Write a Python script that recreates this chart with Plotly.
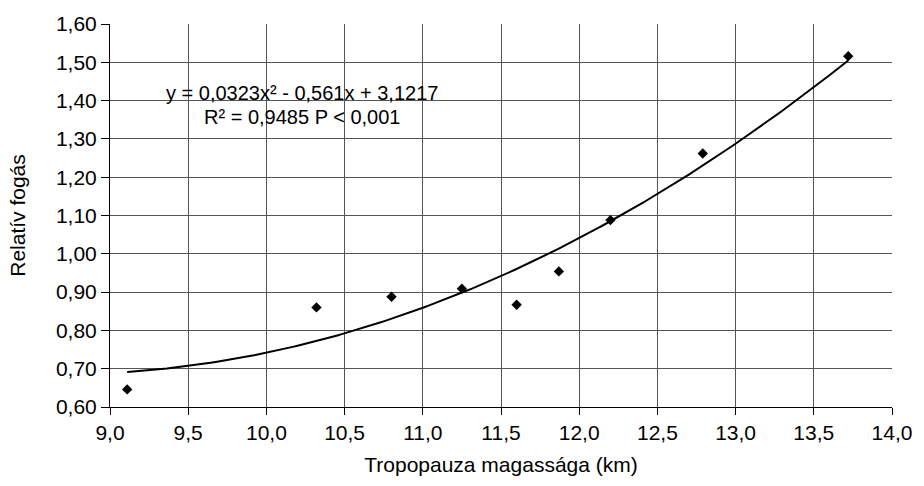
import numpy as np
import plotly.graph_objects as go

# Data
tropopause_km = [9.11, 10.32, 10.80, 11.25, 11.60, 11.87, 12.20, 12.79, 13.72]
relative_catch = [0.646, 0.860, 0.888, 0.909, 0.867, 0.954, 1.088, 1.262, 1.516]

# Polynomial trendline coefficients (as displayed on the chart)
trend_coeffs = [0.0323, -0.561, 3.1217]  # a*x^2 + b*x + c

x_ticks = [9.0, 9.5, 10.0, 10.5, 11.0, 11.5, 12.0, 12.5, 13.0, 13.5, 14.0]
y_ticks = [0.6, 0.7, 0.8, 0.9, 1.0, 1.1, 1.2, 1.3, 1.4, 1.5, 1.6]

eq_text = "y = 0,0323x² - 0,561x + 3,1217"
r2_text = "R² = 0,9485 P < 0,001"

xt = np.linspace(min(tropopause_km), max(tropopause_km), 200)
yt = np.polyval(trend_coeffs, xt)

FONT = "Liberation Sans, Arial, sans-serif"
GRID = "#555555"

fig = go.Figure()
fig.add_trace(go.Scatter(x=xt, y=yt, mode="lines",
                         line=dict(color="black", width=2), hoverinfo="skip"))
fig.add_trace(go.Scatter(x=tropopause_km, y=relative_catch, mode="markers",
                         marker=dict(symbol="diamond", size=8, color="black")))

fig.add_annotation(x=10.225, y=1.42, xref="x", yref="y", text=eq_text,
                   showarrow=False, font=dict(family=FONT, size=20, color="black"),
                   xanchor="center", yanchor="middle")
fig.add_annotation(x=10.225, y=1.356, xref="x", yref="y", text=r2_text,
                   showarrow=False, font=dict(family=FONT, size=20, color="black"),
                   xanchor="center", yanchor="middle")

fig.update_layout(
    width=924, height=486,
    margin=dict(l=110, r=29, t=18, b=79),
    paper_bgcolor="white", plot_bgcolor="white",
    showlegend=False,
    separators=",.",
    font=dict(family=FONT, size=21, color="black"),
)
fig.update_xaxes(
    range=[9.0, 14.0], tickvals=x_ticks, tickformat=".1f",
    showgrid=True, gridcolor=GRID, gridwidth=1,
    showline=True, linecolor="black", linewidth=1,
    ticks="outside", ticklen=7, tickcolor="black",
    zeroline=False,
    title=dict(text="Tropopauza magassága (km)", font=dict(size=21), standoff=14),
)
fig.update_yaxes(
    range=[0.6, 1.6], tickvals=y_ticks, tickformat=".2f",
    showgrid=True, gridcolor=GRID, gridwidth=1,
    showline=True, linecolor="black", linewidth=1,
    ticks="outside", ticklen=8, tickcolor="black",
    zeroline=False,
    title=dict(text="Relatív fogás", font=dict(size=21), standoff=24),
)

fig.write_html("out.html")
